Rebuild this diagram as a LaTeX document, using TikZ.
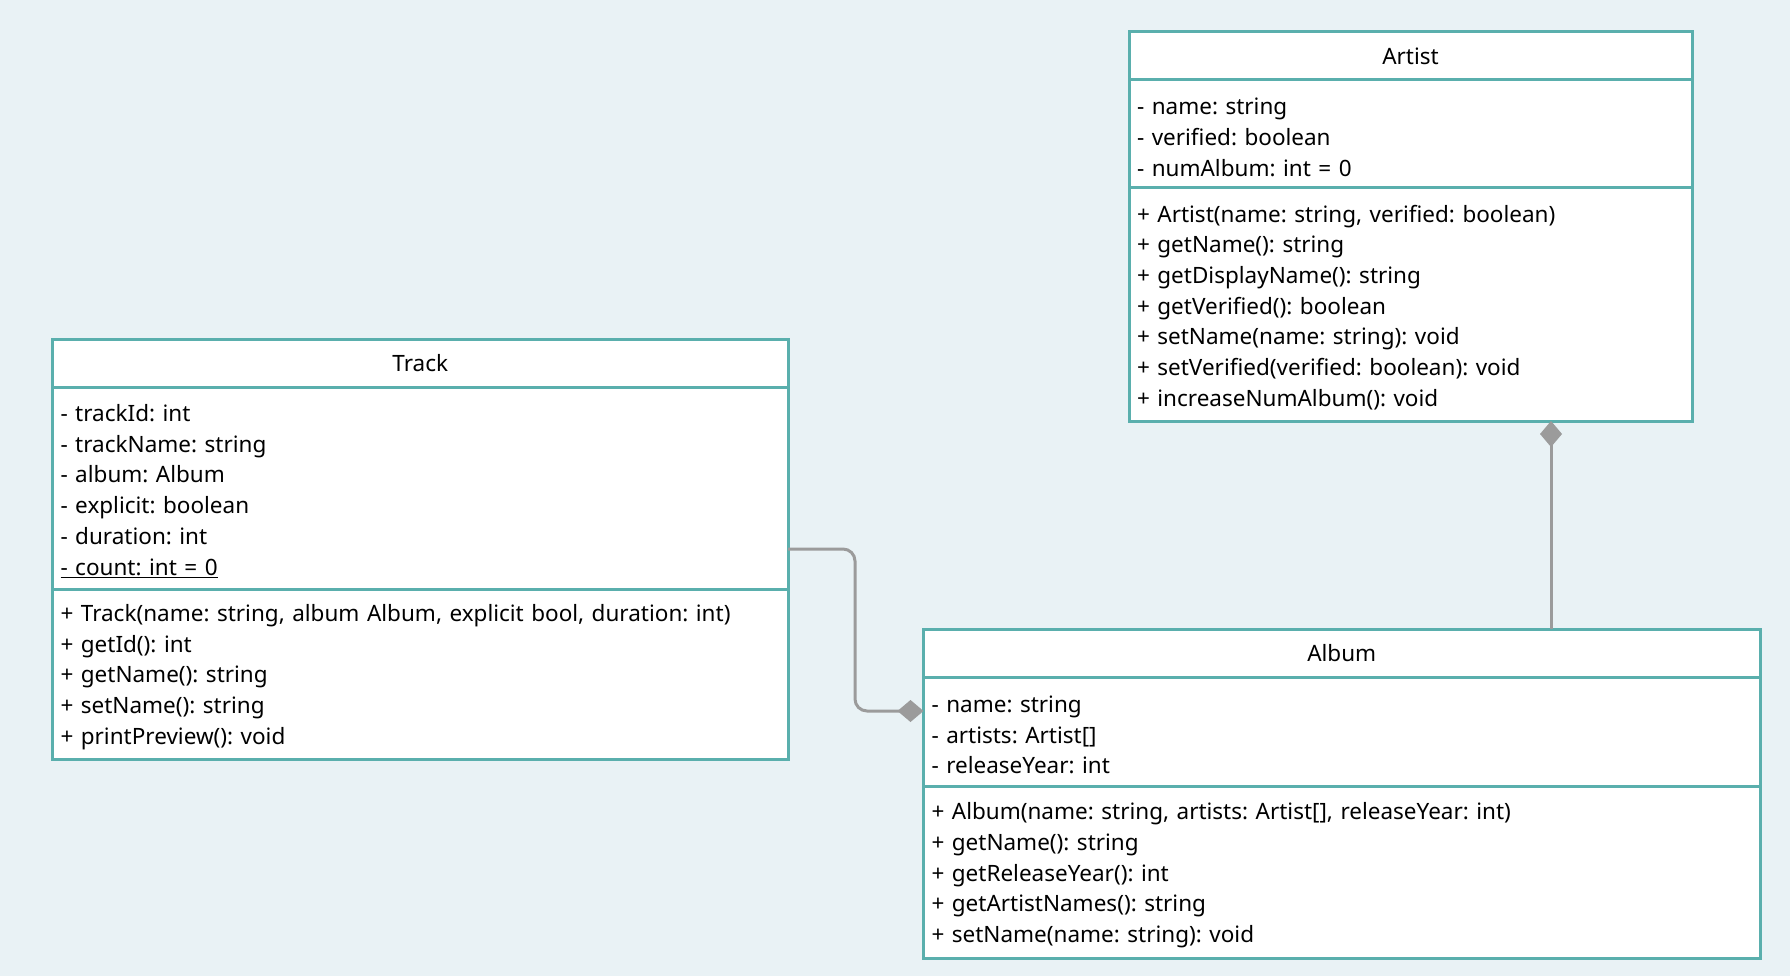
\documentclass[tikz,border=0pt]{standalone}
\usepackage{fontspec}
\setmainfont{Noto Sans}
\usetikzlibrary{positioning,arrows.meta}
\frenchspacing

\definecolor{bgblue}{HTML}{E9F2F5}
\definecolor{umlteal}{HTML}{5AAFAD}
\definecolor{linkgray}{HTML}{9B9B9B}

\tikzset{
  umlpart/.style={draw=umlteal, fill=white, line width=3pt, outer sep=0pt,
    inner xsep=8pt, inner ysep=0pt, font=\fontsize{22.5}{30.7}\selectfont},
  umltitle/.style={umlpart, minimum width=#1, minimum height=48pt, align=center},
  umlbody/.style 2 args={umlpart, minimum width=#1, minimum height=#2, align=left,
    execute at begin node={\rule{0pt}{23pt}}},
  comp/.style={draw=linkgray, line width=3pt, rounded corners=12pt,
    -{Diamond[length=26pt, width=22pt, fill=linkgray]}}
}

\begin{document}
\begin{tikzpicture}[x=1pt, y=-1pt]
\fill[bgblue] (0,0) rectangle (1790,976);
\useasboundingbox (0,0) rectangle (1790,976);

% Artist
\node[umltitle=563pt, anchor=north west] (artist-title) at (1129,32) {Artist};
\node[umlbody={563pt}{108pt}, text width=547pt, below=0pt of artist-title] (artist-attr)
  {- name: string\\
   - verified: boolean\\
   - numAlbum: int = 0};
\node[umlbody={563pt}{233pt}, text width=547pt, below=0pt of artist-attr] (artist-ops)
  {+ Artist(name: string, verified: boolean)\\
   + getName(): string\\
   + getDisplayName(): string\\
   + getVerified(): boolean\\
   + setName(name: string): void\\
   + setVerified(verified: boolean): void\\
   + increaseNumAlbum(): void};

% Track
\node[umltitle=735.5pt, anchor=north west] (track-title) at (52.5,339) {Track};
\node[umlbody={735.5pt}{202pt}, text width=719.5pt, below=0pt of track-title] (track-attr)
  {- trackId: int\\
   - trackName: string\\
   - album: Album\\
   - explicit: boolean\\
   - duration: int\\
   \underline{- count: int = 0}};
\node[umlbody={735.5pt}{170pt}, text width=719.5pt, below=0pt of track-attr] (track-ops)
  {+ Track(name: string, album Album, explicit bool, duration: int)\\
   + getId(): int\\
   + getName(): string\\
   + setName(): string\\
   + printPreview(): void};

% Album
\node[umltitle=836.5pt, anchor=north west] (album-title) at (923.5,629) {Album};
\node[umlbody={836.5pt}{109.5pt}, text width=820.5pt, below=0pt of album-title] (album-attr)
  {- name: string\\
   - artists: Artist[]\\
   - releaseYear: int};
\node[umlbody={836.5pt}{171.5pt}, text width=820.5pt, below=0pt of album-attr] (album-ops)
  {+ Album(name: string, artists: Artist[], releaseYear: int)\\
   + getName(): string\\
   + getReleaseYear(): int\\
   + getArtistNames(): string\\
   + setName(name: string): void};

% compositions
\draw[comp] ([yshift=-61pt]track-attr.east) -- ++(67,0) |- ([yshift=20.75pt]album-attr.west);
\draw[comp] ([xshift=209.25pt]album-title.north) -- ([xshift=209.25pt]album-title.north |- artist-ops.south);
\end{tikzpicture}
\end{document}
